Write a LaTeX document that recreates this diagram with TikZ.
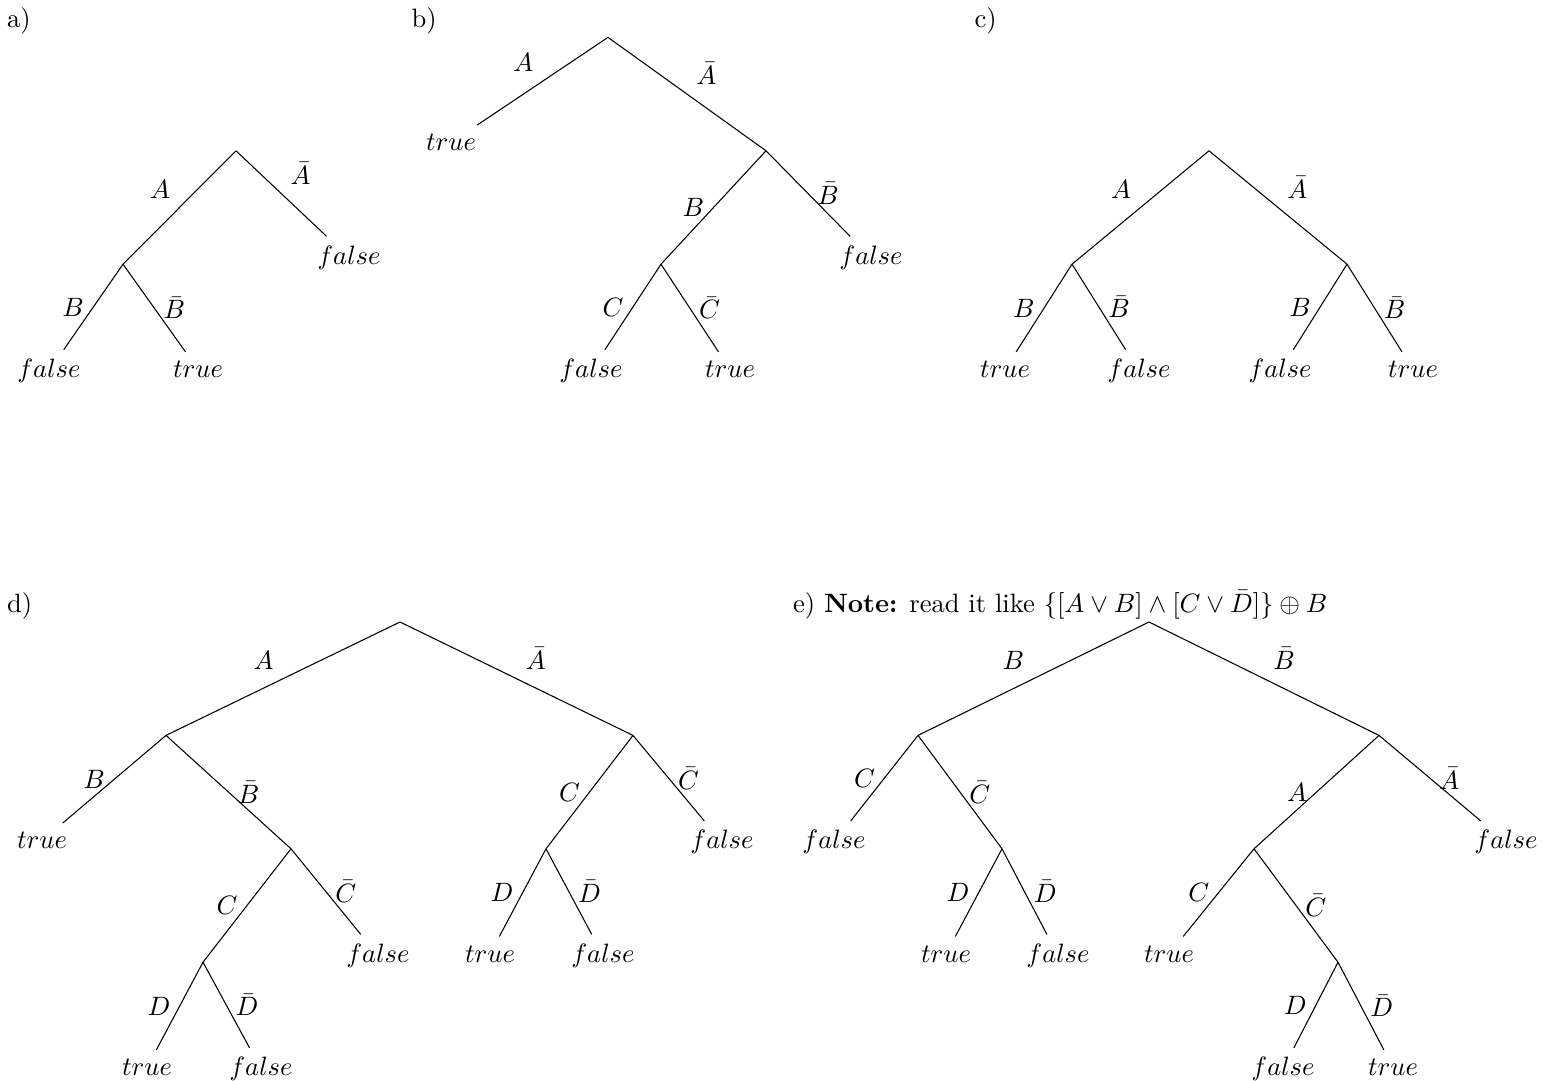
\documentclass[tikz,border=0pt]{standalone}
\begin{document}
% Binary decision trees; one length unit is 1/2.657 pt, y grows downwards.
\begin{tikzpicture}[x=0.37636pt, y=-0.37636pt,
  leaf/.style={anchor=base, inner sep=0.3333em},
  heading/.style={anchor=base west, inner sep=0pt},
  every path/.style={line width=0.4pt}]
\useasboundingbox (0,0) rectangle (1543,1081);

% ---------------- a) ----------------
\node[heading] (ha) at (6.5,27.5) {a)};
\coordinate (a0) at (236,150.8);
\coordinate (a1) at (123,264.2);
\node[leaf] (a2) at (349,264.2) {$false$};
\node[leaf] (a3) at (49,377.6) {$false$};
\node[leaf] (a4) at (198,377.6) {$true$};
\draw (a0) -- node[above left] (aA) {$A$} (a1);
\draw (a0) -- node[above right] (aAn) {$\bar{A}$} (a2);
\draw (a1) -- node[left] (aB) {$B$} (a3);
\draw (a1) -- node[right] (aBn) {$\bar{B}$} (a4);

% ---------------- b) ----------------
\node[heading] (hb) at (411,27.5) {b)};
\coordinate (b0) at (608,37.4);
\node[leaf] (b1) at (451,150.8) {$true$};
\coordinate (b2) at (766,150.8);
\coordinate (b3) at (661,264.2);
\node[leaf] (b4) at (871,264.2) {$false$};
\node[leaf] (b5) at (591,377.6) {$false$};
\node[leaf] (b6) at (730,377.6) {$true$};
\draw (b0) -- node[above left] (bA) {$A$} (b1);
\draw (b0) -- node[above right] (bAn) {$\bar{A}$} (b2);
\draw (b2) -- node[left] (bB) {$B$} (b3);
\draw (b2) -- node[right] (bBn) {$\bar{B}$} (b4);
\draw (b3) -- node[left] (bC) {$C$} (b5);
\draw (b3) -- node[right] (bCn) {$\bar{C}$} (b6);

% ---------------- c) ----------------
\node[heading] (hc) at (974,27.5) {c)};
\coordinate (c0) at (1209,150.8);
\coordinate (c1) at (1072,264.2);
\coordinate (c2) at (1347,264.2);
\node[leaf] (c3) at (1005,377.6) {$true$};
\node[leaf] (c4) at (1139,377.6) {$false$};
\node[leaf] (c5) at (1280,377.6) {$false$};
\node[leaf] (c6) at (1413,377.6) {$true$};
\draw (c0) -- node[above left] (cA) {$A$} (c1);
\draw (c0) -- node[above right] (cAn) {$\bar{A}$} (c2);
\draw (c1) -- node[left] (cB1) {$B$} (c3);
\draw (c1) -- node[right] (cBn1) {$\bar{B}$} (c4);
\draw (c2) -- node[left] (cB2) {$B$} (c5);
\draw (c2) -- node[right] (cBn2) {$\bar{B}$} (c6);

% ---------------- d) ----------------
\node[heading] (hd) at (6.5,612.5) {d)};
\coordinate (d0) at (400,622);
\coordinate (d1) at (166,735.4);
\coordinate (d2) at (633,735.4);
\node[leaf] (d3) at (42,848.8) {$true$};
\coordinate (d4) at (291,848.8);
\coordinate (d5) at (203,962.2);
\node[leaf] (d6) at (378,962.2) {$false$};
\node[leaf] (d7) at (147,1075.6) {$true$};
\node[leaf] (d8) at (261,1075.6) {$false$};
\coordinate (d9) at (546,848.8);
\node[leaf] (d10) at (722,848.8) {$false$};
\node[leaf] (d11) at (490,962.2) {$true$};
\node[leaf] (d12) at (603,962.2) {$false$};
\draw (d0) -- node[above left] (dA) {$A$} (d1);
\draw (d0) -- node[above right] (dAn) {$\bar{A}$} (d2);
\draw (d1) -- node[left] (dB) {$B$} (d3);
\draw (d1) -- node[right] (dBn) {$\bar{B}$} (d4);
\draw (d4) -- node[left] (dC1) {$C$} (d5);
\draw (d4) -- node[right] (dCn1) {$\bar{C}$} (d6);
\draw (d5) -- node[left] (dD1) {$D$} (d7);
\draw (d5) -- node[right] (dDn1) {$\bar{D}$} (d8);
\draw (d2) -- node[left] (dC2) {$C$} (d9);
\draw (d2) -- node[right] (dCn2) {$\bar{C}$} (d10);
\draw (d9) -- node[left] (dD2) {$D$} (d11);
\draw (d9) -- node[right] (dDn2) {$\bar{D}$} (d12);

% ---------------- e) ----------------
\node[heading] (he) at (792.5,612.5) {e) \textbf{Note:} read it like $\{[A\vee B]\wedge[C\vee\bar{D}]\}\oplus B$};
\coordinate (e0) at (1149,622);
\coordinate (e1) at (918,735.4);
\coordinate (e2) at (1379,735.4);
\node[leaf] (e3) at (834,848.8) {$false$};
\coordinate (e4) at (1002,848.8);
\node[leaf] (e5) at (946,962.2) {$true$};
\node[leaf] (e6) at (1058,962.2) {$false$};
\coordinate (e7) at (1254,848.8);
\node[leaf] (e8) at (1506,848.8) {$false$};
\node[leaf] (e9) at (1169,962.2) {$true$};
\coordinate (e10) at (1338,962.2);
\node[leaf] (e11) at (1283,1075.6) {$false$};
\node[leaf] (e12) at (1393,1075.6) {$true$};
\draw (e0) -- node[above left] (eB) {$B$} (e1);
\draw (e0) -- node[above right] (eBn) {$\bar{B}$} (e2);
\draw (e1) -- node[left] (eC1) {$C$} (e3);
\draw (e1) -- node[right] (eCn1) {$\bar{C}$} (e4);
\draw (e4) -- node[left] (eD1) {$D$} (e5);
\draw (e4) -- node[right] (eDn1) {$\bar{D}$} (e6);
\draw (e2) -- node[left] (eA) {$A$} (e7);
\draw (e2) -- node[right] (eAn) {$\bar{A}$} (e8);
\draw (e7) -- node[left] (eC2) {$C$} (e9);
\draw (e7) -- node[right] (eCn2) {$\bar{C}$} (e10);
\draw (e10) -- node[left] (eD2) {$D$} (e11);
\draw (e10) -- node[right] (eDn2) {$\bar{D}$} (e12);
\end{tikzpicture}
\end{document}
